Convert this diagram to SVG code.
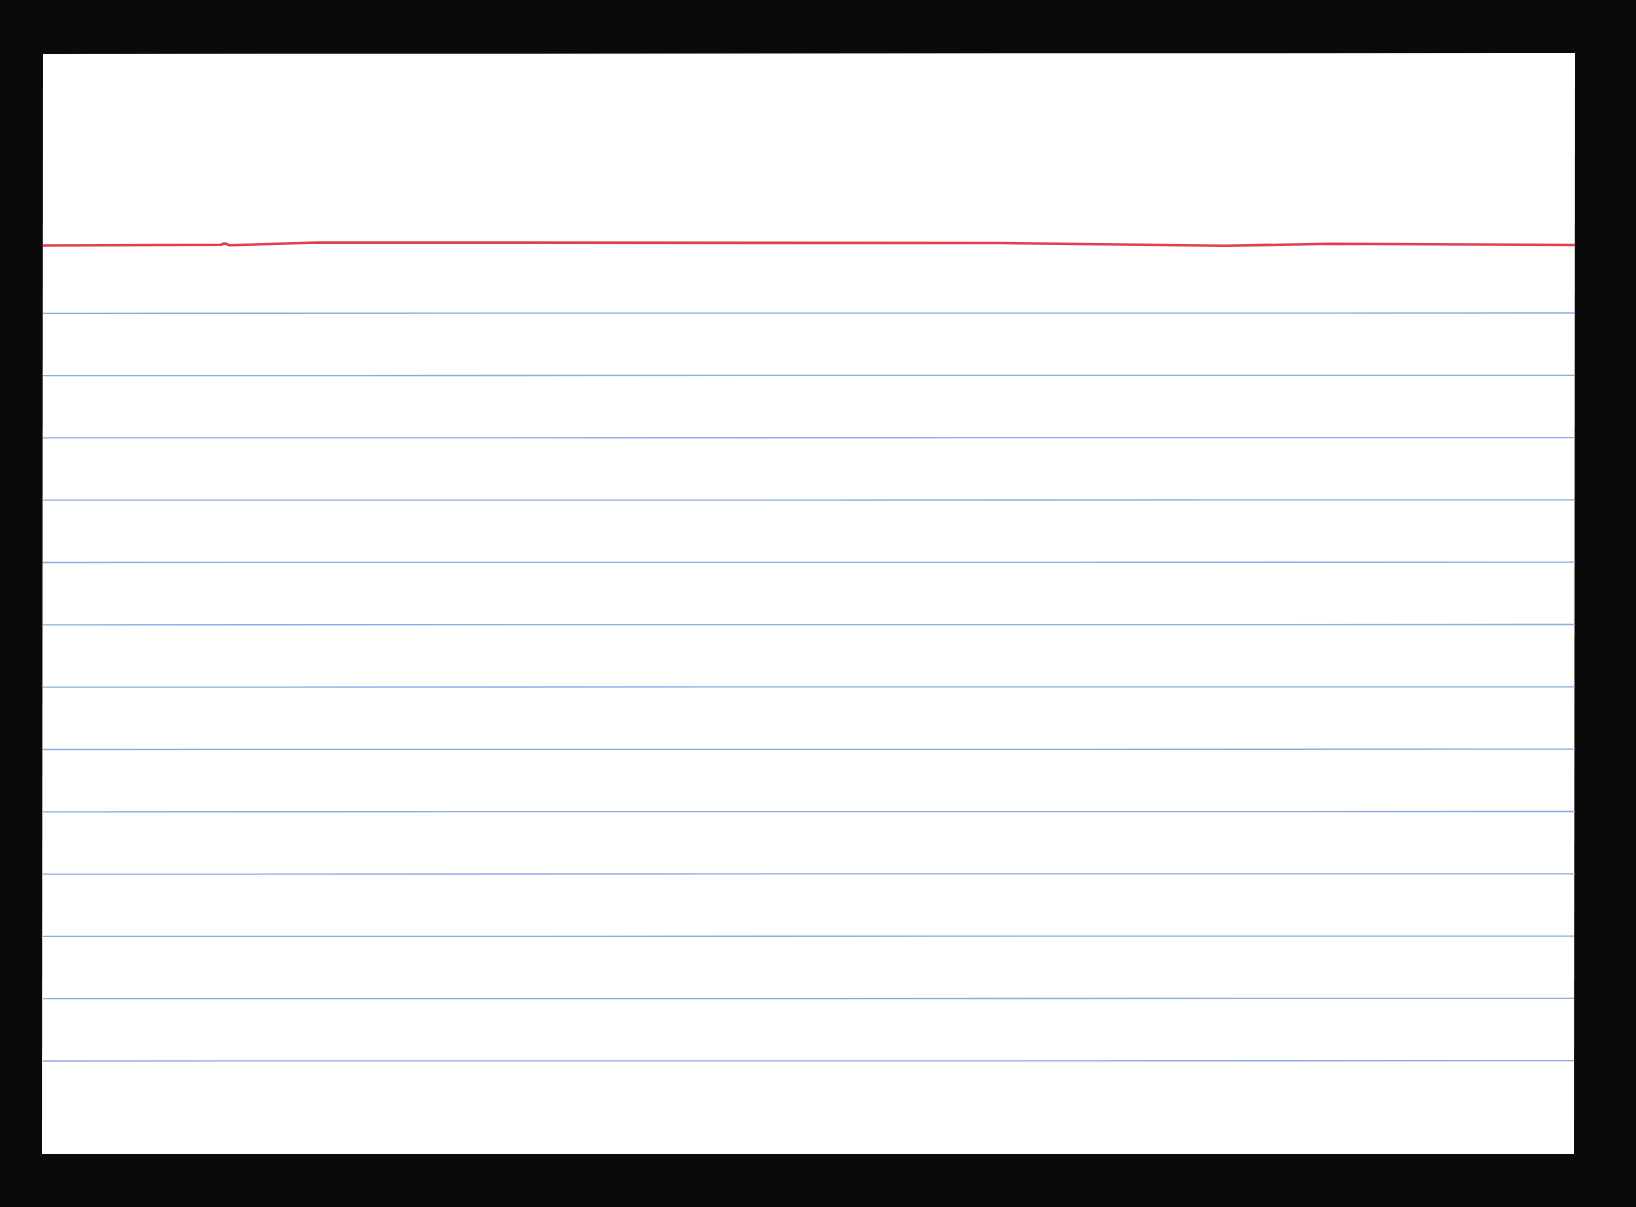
<svg xmlns="http://www.w3.org/2000/svg" width="1636" height="1207" viewBox="0 0 1636 1207">
<style>
.blue{stroke:#8fa9e6;stroke-width:1.3;fill:none}
.red{stroke:#e0404c;stroke-width:2.6;fill:none}
</style>
<rect x="0" y="0" width="1636" height="1207" fill="#0a0a0a"/>
<g id="card">
<polygon points="43,54 1575,53 1574,1154 42,1154" fill="#ffffff"/>
</g>
<g id="lines">
<path class="red" d="M43,245.5 L221,244.8 Q225,242.3 229,245.3 L318,242.5 L1000,243 L1225,245.8 L1330,243.8 L1575,245"/>
<line class="blue" x1="43" y1="313.3" x2="1575" y2="313"/>
<line class="blue" x1="43" y1="375.6" x2="1575" y2="375.3"/>
<line class="blue" x1="43" y1="437.9" x2="1575" y2="437.6"/>
<line class="blue" x1="43" y1="500.2" x2="1575" y2="499.9"/>
<line class="blue" x1="43" y1="562.5" x2="1575" y2="562.2"/>
<line class="blue" x1="43" y1="624.8" x2="1575" y2="624.5"/>
<line class="blue" x1="43" y1="687.1" x2="1575" y2="686.8"/>
<line class="blue" x1="43" y1="749.5" x2="1575" y2="749.2"/>
<line class="blue" x1="43" y1="811.8" x2="1575" y2="811.5"/>
<line class="blue" x1="43" y1="874.1" x2="1575" y2="873.8"/>
<line class="blue" x1="43" y1="936.4" x2="1574" y2="936.1"/>
<line class="blue" x1="43" y1="998.7" x2="1574" y2="998.4"/>
<line class="blue" x1="43" y1="1061" x2="1574" y2="1060.7"/>
</g>
</svg>
